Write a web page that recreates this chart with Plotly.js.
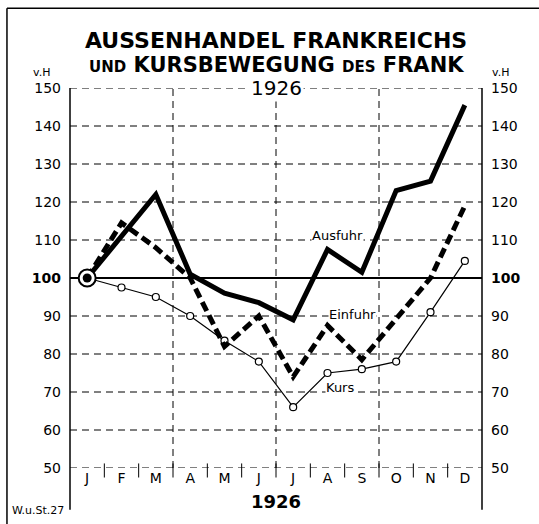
<!DOCTYPE html>
<html>
<head>
<meta charset="utf-8">
<script src="https://cdn.plot.ly/plotly-3.0.1.min.js"></script>
<style>html,body{margin:0;padding:0;background:#fff;}#chart{width:539px;height:524px;}</style>
</head>
<body>
<div id="chart"></div>
<script>
// ---- data ----
const monthIdx = [0,1,2,3,4,5,6,7,8,9,10,11];
const monthLabels = ['J','F','M','A','M','J','J','A','S','O','N','D'];
const ausfuhr = [100, 111, 122, 101, 96, 93.5, 89, 107.5, 101.5, 123, 125.5, 145.5];
const einfuhr = [100, 114.5, 108, 100, 82, 90, 74, 87.5, 78.5, 89.5, 100, 119];
const kurs    = [100, 97.5, 95, 90, 83.5, 78, 66, 75, 76, 78, 91, 104.5];
const yTicks = [50,60,70,80,90,100,110,120,130,140,150];
const yTickText = ['50','60','70','80','90','<b>100</b>','110','120','130','140','150'];
const quarterBounds = [2.5, 5.5, 8.5];

const FONT = 'DejaVu Sans, Liberation Sans, sans-serif';

const traces = [
  {x: monthIdx, y: kurs, mode: 'lines+markers', line: {color: '#000', width: 1.2},
   marker: {symbol: 'circle', size: 7, color: '#fff', line: {color: '#000', width: 1.2}},
   showlegend: false, hoverinfo: 'skip'},
  {x: monthIdx, y: einfuhr, mode: 'lines', line: {color: '#000', width: 5, dash: '10px,5px'},
   showlegend: false, hoverinfo: 'skip'},
  {x: monthIdx, y: ausfuhr, mode: 'lines', line: {color: '#000', width: 5}, yaxis: 'y2',
   showlegend: false, hoverinfo: 'skip'},
  {x: [monthIdx[0]], y: [kurs[0]], mode: 'markers',
   marker: {size: 17, color: '#fff', line: {color: '#000', width: 2}}, showlegend: false, hoverinfo: 'skip', yaxis: 'y2'},
  {x: [monthIdx[0]], y: [kurs[0]], mode: 'markers',
   marker: {size: 9, color: '#000'}, showlegend: false, hoverinfo: 'skip', yaxis: 'y2'}
];

const shapes = [];
yTicks.forEach(v => {
  if (v === 100) return;
  shapes.push({type: 'line', xref: 'paper', yref: 'y', x0: 0, x1: 1, y0: v, y1: v,
    line: {color: '#000', width: 1, dash: '7px,5px'}, layer: 'below'});
});
shapes.push({type: 'line', xref: 'paper', yref: 'y', x0: 0, x1: 1, y0: 100, y1: 100,
  line: {color: '#000', width: 2}, layer: 'below'});
quarterBounds.forEach(q => {
  shapes.push({type: 'line', xref: 'x', yref: 'y', x0: q, x1: q, y0: 50, y1: 150,
    line: {color: '#000', width: 1, dash: '7px,5px'}, layer: 'below'});
});
for (let i = 0; i < 11; i++) {
  shapes.push({type: 'line', xref: 'x', yref: 'paper', x0: i + 0.5, x1: i + 0.5, y0: 0.012, y1: -0.025,
    line: {color: '#000', width: 1}, layer: 'below'});
}
shapes.push({type: 'line', xref: 'paper', yref: 'paper', x0: 0, x1: 0, y0: 1, y1: -0.11, line: {color: '#000', width: 1.5}});
shapes.push({type: 'line', xref: 'paper', yref: 'paper', x0: 1, x1: 1, y0: 1, y1: -0.11, line: {color: '#000', width: 1.5}});
shapes.push({type: 'line', xref: 'paper', yref: 'paper', x0: -0.153, x1: 1.14, y0: 1.21, y1: 1.21, line: {color: '#000', width: 1.5}});
shapes.push({type: 'line', xref: 'paper', yref: 'paper', x0: -0.153, x1: -0.153, y0: 1.21, y1: -0.16, line: {color: '#000', width: 1.5}});

const annotations = [
  {xref: 'paper', yref: 'paper', x: 0.5, y: 1.126, text: '<b>AUSSENHANDEL FRANKREICHS</b>', showarrow: false,
   font: {family: FONT, size: 22, color: '#000'}, xanchor: 'center', yanchor: 'middle'},
  {xref: 'paper', yref: 'paper', x: 0.5, y: 1.061,
   text: '<b><span style="font-size:15px">UND</span> KURSBEWEGUNG <span style="font-size:15px">DES</span> FRANK</b>', showarrow: false,
   font: {family: FONT, size: 21, color: '#000'}, xanchor: 'center', yanchor: 'middle'},
  {xref: 'paper', yref: 'paper', x: 0.5, y: 1.0, text: '1926', showarrow: false, bgcolor: '#fff',
   font: {family: FONT, size: 20, color: '#000'}, xanchor: 'center', yanchor: 'middle'},
  {xref: 'paper', yref: 'paper', x: 0.5, y: -0.088, text: '<b>1926</b>', showarrow: false,
   font: {family: FONT, size: 18, color: '#000'}, xanchor: 'center', yanchor: 'middle'},
  {xref: 'paper', yref: 'paper', x: -0.07, y: 1.04, text: 'v.H', showarrow: false,
   font: {family: FONT, size: 11, color: '#000'}, xanchor: 'center', yanchor: 'middle'},
  {xref: 'paper', yref: 'paper', x: 1.045, y: 1.04, text: 'v.H', showarrow: false,
   font: {family: FONT, size: 11, color: '#000'}, xanchor: 'center', yanchor: 'middle'},
  {xref: 'paper', yref: 'paper', x: -0.145, y: -0.113, text: 'W.u.St.27', showarrow: false,
   font: {family: FONT, size: 11, color: '#000'}, xanchor: 'left', yanchor: 'middle'},
  {xref: 'x', yref: 'y', x: 7.28, y: 111.3, text: 'Ausfuhr', showarrow: false, bgcolor: '#fff',
   font: {family: FONT, size: 13, color: '#000'}, borderpad: 0},
  {xref: 'x', yref: 'y', x: 7.74, y: 90.3, text: 'Einfuhr', showarrow: false, bgcolor: '#fff',
   font: {family: FONT, size: 13, color: '#000'}, borderpad: 0},
  {xref: 'x', yref: 'y', x: 7.36, y: 71.3, text: 'Kurs', showarrow: false, bgcolor: '#fff',
   font: {family: FONT, size: 13, color: '#000'}, borderpad: 0}
];

const layout = {
  width: 539, height: 524,
  margin: {l: 70, r: 57, t: 88, b: 56, pad: 0},
  paper_bgcolor: '#fff', plot_bgcolor: '#fff',
  font: {family: FONT, color: '#000'},
  showlegend: false,
  xaxis: {range: [-0.5, 11.5], tickvals: monthIdx, ticktext: monthLabels, showgrid: false, zeroline: false,
    showline: false, ticks: '', ticklabelstandoff: 0, tickfont: {family: FONT, size: 14, color: '#000'}, fixedrange: true},
  yaxis: {range: [50, 150], tickvals: yTicks, ticktext: yTickText, showgrid: false, zeroline: false, showline: false,
    ticks: '', ticklabelstandoff: 8, tickfont: {family: FONT, size: 14, color: '#000'}, fixedrange: true},
  yaxis2: {range: [50, 150], overlaying: 'y', side: 'right', tickvals: yTicks, ticktext: yTickText, showgrid: false,
    zeroline: false, showline: false, ticks: '', ticklabelstandoff: 8, tickfont: {family: FONT, size: 14, color: '#000'}, fixedrange: true},
  shapes: shapes,
  annotations: annotations
};

Plotly.newPlot('chart', traces, layout, {staticPlot: true, displayModeBar: false});
</script>
</body>
</html>
